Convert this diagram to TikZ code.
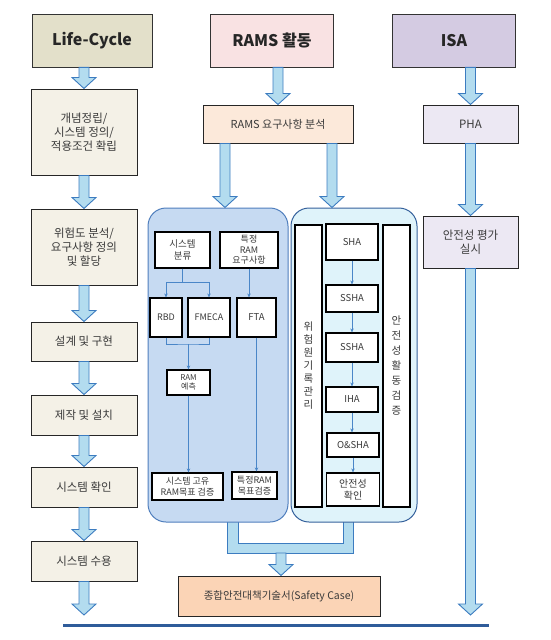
\documentclass[tikz,border=0pt]{standalone}
\usepackage{fontspec}
\setmainfont{Noto Sans CJK KR}
\usetikzlibrary{calc, arrows.meta}

\definecolor{lchead}{HTML}{E3E0CA}
\definecolor{lcfill}{HTML}{F4F1E7}
\definecolor{ramshead}{HTML}{F9E2E3}
\definecolor{isahead}{HTML}{D4CBE2}
\definecolor{isafill}{HTML}{ECE8F3}
\definecolor{reqfill}{HTML}{FCE9DA}
\definecolor{casefill}{HTML}{FBD4B6}
\definecolor{ramfill}{HTML}{C6DAF2}
\definecolor{ramline}{HTML}{4F7EBD}
\definecolor{safefill}{HTML}{DFF3FA}
\definecolor{safeline}{HTML}{35619C}
\definecolor{arrowfill}{HTML}{B3DCEF}
\definecolor{arrowline}{HTML}{3C7CC0}
\definecolor{linkblue}{HTML}{4A86C8}
\definecolor{baseblue}{HTML}{2F5C9A}
\definecolor{textgray}{HTML}{3A3A3A}

\tikzstyle{header}=[rectangle, draw=black!80, line width=0.8pt,
                    minimum width=123pt, minimum height=53pt,
                    font=\fontsize{16}{18}\selectfont\bfseries, text=black!85]
\tikzstyle{stage}=[rectangle, draw=black!85, line width=1pt, fill=lcfill,
                   minimum width=106pt, align=center, text=textgray,
                   font=\fontsize{11.5}{14}\selectfont]
\tikzstyle{isabox}=[stage, fill=isafill, minimum width=95pt]
\tikzstyle{panel}=[rectangle, line width=1pt, rounded corners=18pt]
\tikzstyle{element}=[rectangle, draw=black, line width=1.2pt, fill=white,
                     inner sep=1pt, align=center, text=textgray,
                     font=\fontsize{9.5}{11.5}\selectfont]
\tikzstyle{fatarrow}=[draw=arrowline, fill=arrowfill, line width=0.9pt]
\tikzstyle{link}=[-{Stealth[length=4pt, width=3.5pt]}, draw=linkblue, line width=0.6pt]

% vertical block arrow: x taken from the start, tip at the end
\newcommand{\fatarrow}[2]{%
  \path[fatarrow] let \p1=#1, \p2=#2 in
    ({\x1-5pt},\y1) -- ({\x1-5pt},{\y2+11pt}) -- ({\x1-12pt},{\y2+11pt}) -- (\x1,\y2)
    -- ({\x1+12pt},{\y2+11pt}) -- ({\x1+5pt},{\y2+11pt}) -- ({\x1+5pt},\y1) -- cycle;}

\begin{document}
\begin{tikzpicture}[x=1pt, y=-1pt]
\useasboundingbox (0, 0) rectangle (550, 640);
%%%%%%%%%%%%%%%%%%%%%%%%%%%%%%
% nodes

% headers
\node (lch) at (92, 40.5) [header, fill=lchead, minimum width=120pt] {Life-Cycle};
\node (ramsh) at (272, 40.5) [header, fill=ramshead] {RAMS 활동};
\node (isah) at (454, 40.5) [header, fill=isahead] {ISA};

% life-cycle
\node (lc1) at (84, 132) [stage, minimum height=86pt] {개념정립/\\시스템 정의/\\적용조건 확립};
\node (lc2) at (84, 247) [stage, minimum height=76pt] {위험도 분석/\\요구사항 정의\\및 할당};
\node (lc3) at (84, 341.5) [stage, minimum height=39pt] {설계 및 구현};
\node (lc4) at (84, 415) [stage, minimum height=40pt] {제작 및 설치};
\node (lc5) at (84, 487) [stage, minimum height=40pt] {시스템 확인};
\node (lc6) at (84, 561) [stage, minimum height=40pt] {시스템 수용};
\coordinate (lcend) at (84, 615);

% rams
\node (rreq) at (278, 124) [stage, fill=reqfill, minimum width=150pt, minimum height=38pt, font=\fontsize{11}{13}\selectfont] {RAMS 요구사항 분석};

% merge bracket under the two panels
\fill[arrowfill, even odd rule] (227, 512) rectangle (353, 553) (238, 512) rectangle (343, 543);
\draw[arrowline, line width=0.9pt] (227, 512) -- (227, 553) -- (353, 553) -- (353, 512)
    (238, 512) -- (238, 543) -- (343, 543) -- (343, 512);
\coordinate (merge) at (281, 553);

\node (rampan) at (218, 365) [panel, fill=ramfill, draw=ramline, minimum width=140pt, minimum height=314pt] {};
\node (safepan) at (354, 365) [panel, fill=safefill, draw=safeline, minimum width=126pt, minimum height=314pt] {};

% ram panel
\node (sysc) at (182.5, 250) [element, minimum width=55pt, minimum height=36pt] {시스템\\분류};
\node (spec) at (249, 250) [element, minimum width=58pt, minimum height=36pt, font=\fontsize{9}{10.5}\selectfont] {특정\\RAM\\요구사항};
\node (rbd) at (166, 317.5) [element, minimum width=32pt, minimum height=39pt, font=\fontsize{9}{11}\selectfont] {RBD};
\node (fmeca) at (209, 317.5) [element, minimum width=42pt, minimum height=39pt, font=\fontsize{9}{11}\selectfont] {FMECA};
\node (fta) at (256.5, 317.5) [element, minimum width=39pt, minimum height=39pt] {FTA};
\node (ramp) at (188.5, 382.5) [element, minimum width=43pt, minimum height=25pt, font=\fontsize{8}{9.5}\selectfont] {RAM\\예측};
\node (sysv) at (187.5, 486.5) [element, minimum width=71pt, minimum height=27pt, font=\fontsize{9}{10.5}\selectfont] {시스템 고유\\RAM목표 검증};
\node (specv) at (254.5, 485.5) [element, minimum width=45pt, minimum height=27pt, font=\fontsize{9}{10.5}\selectfont] {특정RAM\\목표검증};
\coordinate (join) at (188.5, 344);

% safety panel
\node (hazlog) at (308.5, 366) [element, minimum width=27pt, minimum height=282pt, font=\fontsize{10.5}{13}\selectfont] {위\\험\\원\\기\\록\\관\\리};
\node (safev) at (396.5, 366) [element, minimum width=27pt, minimum height=282pt, font=\fontsize{10.5}{15}\selectfont] {안\\전\\성\\활\\동\\검\\증};
\node (sha) at (352, 242) [element, minimum width=52pt, minimum height=36pt] {SHA};
\node (ssha1) at (352, 298.5) [element, minimum width=52pt, minimum height=27pt] {SSHA};
\node (ssha2) at (352, 347.5) [element, minimum width=52pt, minimum height=29pt] {SSHA};
\node (iha) at (352, 399.5) [element, minimum width=52pt, minimum height=25pt] {IHA};
\node (osha) at (353, 445) [element, minimum width=52pt, minimum height=24pt] {O\&SHA};
\node (chk) at (353, 489.5) [element, minimum width=53pt, minimum height=33pt, font=\fontsize{10}{12}\selectfont] {안전성\\확인};

% safety case
\node (case) at (279, 596) [stage, fill=casefill, minimum width=202pt, minimum height=40pt, font=\fontsize{10.5}{12}\selectfont] {종합안전대책기술서(Safety Case)};

% isa
\node (pha) at (470.5, 124) [isabox, minimum height=38pt] {PHA};
\node (isaev) at (470.5, 242) [isabox, minimum height=52pt] {안전성 평가\\실시};
\coordinate (isaend) at (470.5, 615);

%%%%%%%%%%%%%%%%%%%%%%%%%%%%%%
% links

% life-cycle
\fatarrow{(lc1.north |- lch.south)}{(lc1.north)}
\fatarrow{(lc1.south)}{(lc2.north)}
\fatarrow{(lc2.south)}{(lc3.north)}
\fatarrow{(lc3.south)}{(lc4.north)}
\fatarrow{(lc4.south)}{(lc5.north)}
\fatarrow{(lc5.south)}{(lc6.north)}
\fatarrow{(lc6.south)}{(lcend)}

% rams
\fatarrow{(rreq.north |- ramsh.south)}{(rreq.north)}
\fatarrow{([xshift=-53pt]rreq.south)}{(rampan.north)}
\fatarrow{([xshift=54pt]rreq.south)}{(safepan.north)}
\fatarrow{(merge)}{(case.north)}

\draw [link] (sysc.south) -- ++(0, 14) -| (rbd.north);
\draw [link] (sysc.south) -- ++(0, 14) -| (fmeca.north);
\draw [link] (spec.south) -- (spec.south |- fta.north);
\draw [linkblue, line width=0.6pt] (rbd.south) |- (join) -| (fmeca.south);
\draw [link] (join) -- (ramp.north);
\draw [link] (ramp.south) -- (ramp.south |- sysv.north);
\draw [link] (fta.south) -- (fta.south |- specv.north);

\draw [link] (sha) -- (ssha1);
\draw [link] (ssha1) -- (ssha2);
\draw [link] (ssha2) -- (iha);
\draw [link] (iha.south) -- (iha.south |- osha.north);
\draw [link] (osha) -- (chk);

% isa
\fatarrow{(pha.north |- isah.south)}{(pha.north)}
\fatarrow{(pha.south)}{(isaev.north)}
\fatarrow{(isaev.south)}{(isaend)}

% base line
\draw [baseblue, line width=3pt] (63, 625) -- (489, 625);

\end{tikzpicture}
\end{document}
